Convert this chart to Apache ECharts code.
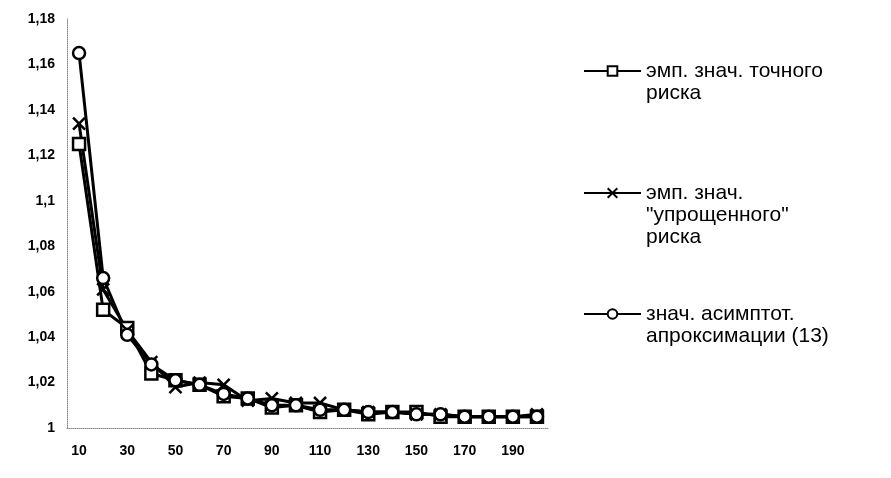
<!DOCTYPE html>
<html>
<head>
<meta charset="utf-8">
<script src="https://cdn.jsdelivr.net/npm/echarts@6/dist/echarts.min.js"></script>
<style>
html,body{margin:0;padding:0;background:#fff;}
#chart{width:891px;height:478px;}
</style>
</head>
<body>
<div id="chart"></div>
<script>
var categories = ['10','20','30','40','50','60','70','80','90','100','110','120','130','140','150','160','170','180','190','200'];
var exactRisk = [1.125, 1.052, 1.044, 1.024, 1.021, 1.019, 1.014, 1.013, 1.009, 1.010, 1.007, 1.008, 1.006, 1.007, 1.007, 1.005, 1.005, 1.005, 1.005, 1.005];
var simplifiedRisk = [1.134, 1.061, 1.043, 1.029, 1.018, 1.020, 1.019, 1.012, 1.013, 1.011, 1.011, 1.008, 1.007, 1.007, 1.006, 1.006, 1.005, 1.005, 1.005, 1.006];
var asymptotic = [1.165, 1.066, 1.041, 1.028, 1.021, 1.019, 1.015, 1.013, 1.010, 1.010, 1.008, 1.008, 1.007, 1.007, 1.006, 1.006, 1.005, 1.005, 1.005, 1.005];
var seriesNames = ['эмп. знач. точного\nриска', 'эмп. знач.\n"упрощенного"\nриска', 'знач. асимптот.\nапроксимации (13)'];
var yMin = 1, yMax = 1.18, yStep = 0.02;

var FONT = '"Liberation Sans", Arial, sans-serif';
var chart = echarts.init(document.getElementById('chart'), null, {renderer: 'canvas'});

function mkSeries(name, data, symbol, size) {
  return {
    name: name,
    type: 'line',
    data: data,
    symbol: symbol,
    symbolSize: size,
    showAllSymbol: true,
    lineStyle: {color: '#000', width: 3},
    itemStyle: {color: '#fff', borderColor: '#000', borderWidth: 2.5},
    emphasis: {disabled: true},
    animation: false
  };
}

function mkLegend(name, top) {
  return {
    data: [name],
    orient: 'vertical',
    left: 583,
    top: top,
    padding: 0,
    itemWidth: 57,
    itemHeight: 12,
    selectedMode: false,
    formatter: function (n) {
      var k = n.split('\n').length - 1;
      var pre = '';
      for (var i = 0; i < k; i++) pre += ' \n';
      return pre + n;
    },
    textStyle: {fontFamily: FONT, fontSize: 21, color: '#000', lineHeight: 22}
  };
}

var option = {
  backgroundColor: '#fff',
  animation: false,
  grid: {left: 67, right: 342, top: 19, bottom: 50},
  legend: [
    mkLegend(seriesNames[0], 38),
    mkLegend(seriesNames[1], 138),
    mkLegend(seriesNames[2], 281)
  ],
  xAxis: {
    type: 'category',
    data: categories,
    boundaryGap: true,
    axisLine: {show: true, lineStyle: {color: '#888', type: 'dotted', width: 1}},
    axisTick: {show: false},
    axisLabel: {interval: 1, color: '#000', fontFamily: FONT, fontSize: 14, fontWeight: 'bold', margin: 16}
  },
  yAxis: {
    type: 'value',
    min: yMin,
    max: yMax,
    interval: yStep,
    axisLine: {show: true, lineStyle: {color: '#888', type: 'dotted', width: 1}},
    axisTick: {show: false},
    splitLine: {show: false},
    axisLabel: {
      color: '#000', fontFamily: FONT, fontSize: 14, fontWeight: 'bold', margin: 12,
      formatter: function (v) { return String(Math.round(v * 100) / 100).replace('.', ','); }
    }
  },
  series: [
    mkSeries(seriesNames[0], exactRisk, 'rect', 12),
    mkSeries(seriesNames[1], simplifiedRisk, 'path://M0,0L10,10M10,0L0,10', 12),
    mkSeries(seriesNames[2], asymptotic, 'circle', 12)
  ]
};
chart.setOption(option);
</script>
</body>
</html>
